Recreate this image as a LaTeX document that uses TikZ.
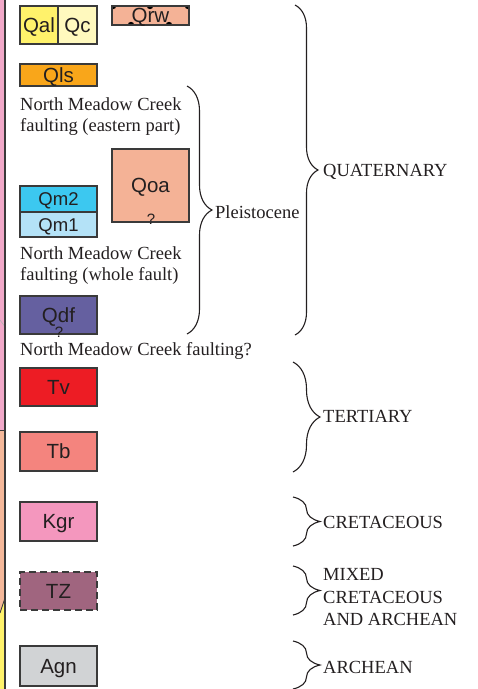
\documentclass[tikz,border=0pt]{standalone}
\usepackage{fontspec}
\setmainfont{Liberation Serif}
\setsansfont{Liberation Sans}
\usetikzlibrary{decorations.pathreplacing}
\definecolor{txt}{HTML}{231F20}
\definecolor{edgec}{HTML}{3A3A3A}
\definecolor{cQal}{HTML}{FFF26B}
\definecolor{cQc}{HTML}{FFF9BE}
\definecolor{cQrw}{HTML}{F4B296}
\definecolor{cQls}{HTML}{F9A61A}
\definecolor{cQm2}{HTML}{3CC8F0}
\definecolor{cQm1}{HTML}{B4E2F7}
\definecolor{cQdf}{HTML}{6560A0}
\definecolor{cTv}{HTML}{ED1C24}
\definecolor{cTb}{HTML}{F4847E}
\definecolor{cKgr}{HTML}{F497BE}
\definecolor{cTZ}{HTML}{A0657F}
\definecolor{cAgn}{HTML}{D1D3D5}
\definecolor{stripPink}{HTML}{F0A8C8}
\definecolor{stripSalmon}{HTML}{F4B89A}
\begin{document}
\begin{tikzpicture}[x=1pt,y=-1pt,
  unitbox/.style={draw=edgec, line width=1.2pt, inner sep=0pt, outer sep=0pt,
    anchor=north west, text=txt, font=\sffamily\fontsize{20.5}{20.5}\selectfont,
    text height=14.6pt, text depth=0pt},
  smallunit/.style={unitbox, font=\sffamily\fontsize{18.5}{18.5}\selectfont, text height=13.2pt},
  lbl/.style={font=\fontsize{18.5}{22}\selectfont, text=txt, inner sep=0pt, anchor=base west},
  qmark/.style={font=\sffamily\fontsize{15}{15}\selectfont, text=txt, inner sep=0pt},
  brc/.style={draw=txt, line width=1.1pt, decorate, decoration={brace, amplitude=#1}}]
\useasboundingbox (0,0) rectangle (478,689);
% left map strip
\fill[stripPink] (0,0) rectangle (5,430);
\fill[stripSalmon] (0,430) -- (5,430) -- (5,598) -- (0,613) -- cycle;
\fill[cQal] (0,613) -- (5,598) -- (5,689) -- (0,689) -- cycle;
\draw[edgec, line width=0.8pt] (0,613) -- (5,598);
\draw[gray!60, line width=0.6pt] (0,320) -- (6,328);
\draw[edgec, line width=1pt] (0,430) -- (5,430);
\draw[edgec, line width=1.4pt] (5,0) -- (5,689);
% units
\node[unitbox, fill=cQal, minimum width=38pt, minimum height=38pt] (qal) at (20,6) {Qal};
\node[unitbox, fill=cQc, minimum width=39pt, minimum height=38pt] (qc) at (58,6) {Qc};
\node[unitbox, fill=cQrw, minimum width=77pt, minimum height=19pt] (qrw) at (112,6) {};
\begin{scope}
  \clip (qrw.north west) rectangle (qrw.south east);
  \foreach \p/\q in {113/6,150/6,188/6,131/25,169/25}
    \fill[black] (\p,\q) circle (3.2pt);
\end{scope}
\draw[draw=edgec, line width=1.2pt] (qrw.north west) rectangle (qrw.south east);
\node[text=txt, font=\sffamily\fontsize{20.5}{20.5}\selectfont, inner sep=0pt,
  text height=14.6pt, text depth=0pt] (qrwl) at (qrw.center) {Qrw};
\node[unitbox, fill=cQls, minimum width=77pt, minimum height=22pt] (qls) at (20,64) {Qls};
\node[unitbox, fill=cQrw, minimum width=77pt, minimum height=73pt] (qoa) at (112,149) {Qoa};
\node[qmark] (qoaq) at (151,219) {?};
\node[smallunit, fill=cQm2, minimum width=77pt, minimum height=26pt] (qm2) at (20,186) {Qm2};
\node[smallunit, fill=cQm1, minimum width=77pt, minimum height=25pt] (qm1) at (20,212) {Qm1};
\node[unitbox, fill=cQdf, minimum width=77pt, minimum height=38pt] (qdf) at (20,296) {Qdf};
\node[qmark] (qdfq) at (59,332) {?};
\node[unitbox, fill=cTv, minimum width=77pt, minimum height=38pt] (tv) at (20,368) {Tv};
\node[unitbox, fill=cTb, minimum width=77pt, minimum height=39pt] (tb) at (20,432) {Tb};
\node[unitbox, fill=cKgr, minimum width=77pt, minimum height=39pt] (kgr) at (20,502) {Kgr};
\node[unitbox, fill=cTZ, minimum width=77pt, minimum height=38pt, dash pattern=on 7pt off 4pt] (tz) at (20,572) {TZ};
\node[unitbox, fill=cAgn, minimum width=77pt, minimum height=40pt] (agn) at (20,646) {Agn};
% fault notes
\node[lbl] (e1) at (20,110) {North Meadow Creek};
\node[lbl] (e2) at (20,131) {faulting (eastern part)};
\node[lbl] (w1) at (20,259) {North Meadow Creek};
\node[lbl] (w2) at (20,280) {faulting (whole fault)};
\node[lbl] (f1) at (20,355) {North Meadow Creek faulting?};
% braces
\coordinate (qt) at (295,5);   \coordinate (qb) at (295,335);
\coordinate (pt) at (187,86);  \coordinate (pb) at (187,334);
\coordinate (tt) at (293,362); \coordinate (tbb) at (293,472);
\coordinate (kt) at (293,497); \coordinate (kb) at (293,546);
\coordinate (mt) at (293,566); \coordinate (mb) at (293,615);
\coordinate (at) at (293,641); \coordinate (ab) at (293,689);
\draw[brc=23pt] (qt) -- (qb);
\draw[brc=25pt] (pt) -- (pb);
\draw[brc=27pt] (tt) -- (tbb);
\draw[brc=27pt] (kt) -- (kb);
\draw[brc=27pt] (mt) -- (mb);
\draw[brc=27pt] (at) -- (ab);
\node[lbl] (quat) at (323,176) {QUATERNARY};
\node[lbl] (plei) at (215,218) {Pleistocene};
\node[lbl] (tert) at (323,422) {TERTIARY};
\node[lbl] (cret) at (323,528) {CRETACEOUS};
\node[lbl] (mix1) at (323,580) {MIXED};
\node[lbl] (mix2) at (323,603) {CRETACEOUS};
\node[lbl] (mix3) at (323,625) {AND ARCHEAN};
\node[lbl] (arch) at (323,673) {ARCHEAN};
\end{tikzpicture}
\end{document}
